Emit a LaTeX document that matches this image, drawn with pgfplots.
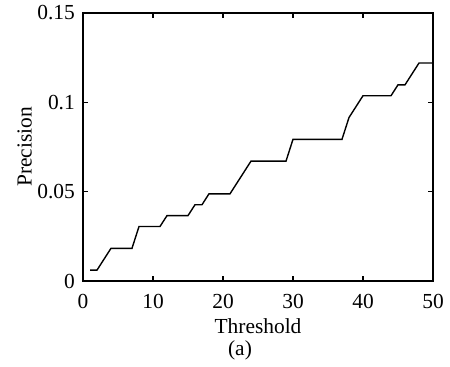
\documentclass[border=0pt]{standalone}
\usepackage{fontspec}
\setmainfont{Liberation Serif}
\usepackage{pgfplots}
\pgfplotsset{compat=1.18}
\begin{document}
\begin{tikzpicture}[font=\fontsize{21.5}{24}\selectfont]
\begin{axis}[
  name=ax,
  scale only axis,
  width=350bp, height=268bp,
  xmin=0, xmax=50, ymin=0, ymax=0.15,
  xtick={0,10,20,30,40,50},
  ytick={0,0.05,0.1,0.15},
  yticklabels={0,0.05,0.1,0.15},
  tick align=inside,
  major tick length=5bp,
  axis line style={line width=1.5pt},
  tick style={line width=1.2pt, black},
  xlabel={Threshold},
  ylabel={Precision},
  ticklabel style={font=\fontsize{21.5}{24}\selectfont, inner sep=0pt},
  label style={font=\fontsize{21.5}{24}\selectfont, inner sep=0pt},
  xticklabel style={anchor=north, yshift=-13bp},
  yticklabel style={anchor=east, xshift=-8bp},
  xlabel style={at={(0.5,0)}, anchor=base, yshift=-52bp},
  ylabel style={at={(0,0.5)}, anchor=south, yshift=51bp},
  /pgf/number format/assume math mode=true,
  clip=false,
]
\addplot[black, line width=1.4pt] coordinates {
(1,0.0061) (2,0.0061) (3,0.0122) (4,0.0183) (5,0.0183) (6,0.0183) (7,0.0183)
(8,0.0305) (9,0.0305) (10,0.0305) (11,0.0305) (12,0.0366) (13,0.0366) (14,0.0366)
(15,0.0366) (16,0.0427) (17,0.0427) (18,0.0488) (19,0.0488) (20,0.0488) (21,0.0488)
(22,0.0549) (23,0.0610) (24,0.0671) (25,0.0671) (26,0.0671) (27,0.0671) (28,0.0671)
(29,0.0671) (30,0.0793) (31,0.0793) (32,0.0793) (33,0.0793) (34,0.0793) (35,0.0793)
(36,0.0793) (37,0.0793) (38,0.0915) (39,0.0976) (40,0.1037) (41,0.1037) (42,0.1037)
(43,0.1037) (44,0.1037) (45,0.1098) (46,0.1098) (47,0.1159) (48,0.1220) (49,0.1220)
(50,0.1220)
};
\end{axis}
\node[inner sep=0pt, anchor=base] at ([xshift=-18bp,yshift=-74bp]ax.south) {(a)};
\pgfresetboundingbox
\path ([xshift=-83bp,yshift=-86bp]ax.south west) rectangle ([xshift=17bp,yshift=13bp]ax.north east);
\end{tikzpicture}
\end{document}
